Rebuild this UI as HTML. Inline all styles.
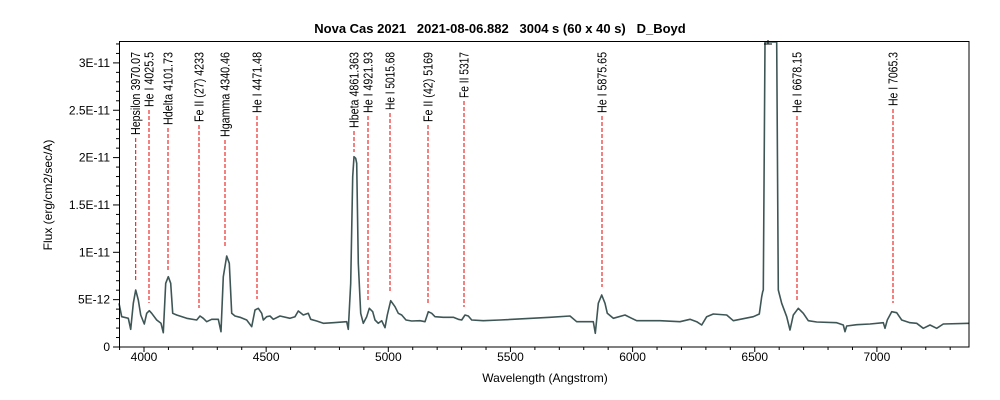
<!DOCTYPE html>
<html><head><meta charset="utf-8"><style>
body{margin:0;background:#fff;}
svg{display:block;font-family:"Liberation Sans",sans-serif;}
</style></head><body>
<svg id="s" width="1000" height="400" viewBox="0 0 1000 400" xmlns="http://www.w3.org/2000/svg">
<rect width="1000" height="400" fill="#fff"/>
<text x="500" y="33" text-anchor="middle" font-size="13" font-weight="bold" style="white-space:pre" xml:space="preserve">Nova Cas 2021   2021-08-06.882   3004 s (60 x 40 s)   D_Boyd</text>
<g id="ticks" stroke="#000" stroke-width="1"></g>
<g id="lines"></g>
<polyline id="spec" fill="none" stroke="#3f5656" stroke-width="1.6" stroke-linejoin="round"/>
<line x1="764" y1="44" x2="772" y2="44" stroke="#000"/><line x1="768" y1="40" x2="768" y2="44" stroke="#000"/>
<rect x="119.5" y="41.5" width="849.5" height="305.5" fill="none" stroke="#000"/>
<g font-size="12" id="lbl"></g>
<text x="545" y="382" text-anchor="middle" font-size="12">Wavelength (Angstrom)</text>
<text transform="translate(52,195) rotate(-90)" text-anchor="middle" font-size="12">Flux (erg/cm2/sec/A)</text>
</svg>
<script>
var NS="http://www.w3.org/2000/svg";
function el(t,a,p,txt){var e=document.createElementNS(NS,t);for(var k in a)e.setAttribute(k,a[k]);if(txt)e.textContent=txt;document.getElementById(p).appendChild(e);return e;}
function X(l){return 144+(l-4000)*0.2443;}
for(var l=3900;l<=7370;l+=100){var x=X(l);var big=l%500==0;el('line',{x1:x,y1:347,x2:x,y2:big?352:350},'ticks');
 if(big)el('text',{x:x,y:361,'text-anchor':'middle'},'lbl',String(l));}
for(var i=0;i<=32;i++){var y=347-i*9.47;var big=i%5==0;el('line',{x1:big?113:116,y1:y,x2:119,y2:y},'ticks');
 if(big){var t=i==0?'0':(i%10==0?(i/10)+'E-11':(i<10?i+'E-12':(i/10)+'E-11'));el('text',{x:110,y:y+4,'text-anchor':'end'},'lbl',t);}}
var M=[["Hepsilon 3970.07",135.7,135,282],["He I 4025.5",149,107,303],["Hdelta 4101.73",168,125,270],["Fe II (27) 4233",199,122,308],["Hgamma 4340.46",225,137,248],["He I 4471.48",257,113,299],["Hbeta 4861.363",354,128,152],["He I 4921.93",368,113,302],["He I 5015.68",390,110,292],["Fe II (42) 5169",428,122,303],["Fe II 5317",464,98,307],["He I 5875.65",602,113,287],["He I 6678.15",797,113,300],["He I 7065.3",893,106,303]];
M.forEach(function(m){el('line',{x1:m[1],y1:m[2]+3,x2:m[1],y2:m[3],stroke:'#ee0000','stroke-dasharray':'4,2'},'lines');
 var t=el('text',{transform:'translate('+(m[1]+4.5)+',52) rotate(-90)','text-anchor':'end','font-size':'12.5'},'lbl',m[0]);
 t.setAttribute('textLength',(m[2]-52));t.setAttribute('lengthAdjust','spacingAndGlyphs');});
var A=[[57,820],[65,860],[85,865],[92,898],[100,820],[107,780],[115,810],[122,855],[133,882],[140,850],[148,842],[155,850],[170,870],[183,880],[190,908],[197,760],[205,740],[212,760],[218,850],[230,855],[260,865],[290,870],[300,858],[310,865],[320,875],[335,868],[355,868],[363,905],[370,740],[380,678],[388,700],[395,850],[405,858],[420,862],[440,870],[455,890],[465,840],[475,835],[485,850],[490,870],[500,860],[510,858],[520,868],[540,858],[570,865],[585,860],[595,843],[610,855],[625,850],[632,868],[650,873],[670,880],[700,878],[740,875],[745,898],[752,760],[758,440],[762,380],[767,385],[770,400],[775,700],[782,850],[790,880],[800,860],[808,835],[818,845],[825,870],[835,880],[845,872],[855,893],[862,855],[872,812],[885,830],[895,850],[905,855],[918,870],[935,873],[960,872],[975,875],[985,845],[995,850],[1005,860],[1030,862],[1060,862],[1075,868],[1085,870],[1095,855],[1105,858],[1115,870],[1150,872],[1200,870]];
var B=[[0,862],[60,858],[80,875],[130,875],[136,910],[145,820],[155,795],[165,820],[172,850],[190,865],[225,855],[245,865],[260,872],[330,872],[390,875],[420,868],[440,875],[455,885],[470,860],[490,852],[530,855],[550,872],[580,866],[610,860],[628,852],[635,800],[638,785],[640,780],[645,0],[680,0],[685,780],[695,820],[710,860],[720,900],[730,855],[745,835],[760,850],[775,872],[800,876],[860,878],[880,885],[885,905],[890,888],[920,884],[960,882],[1000,878],[1005,895],[1012,870],[1025,845],[1040,848],[1055,870],[1080,878],[1100,880],[1120,895],[1140,885],[1160,895],[1180,882],[1258,880]];
var pts=[];A.forEach(function(p){pts.push((100+p[0]/3).toFixed(1)+','+(30+p[1]/3).toFixed(1));});
B.forEach(function(p){var y=30+p[1]/3;if(y<42)y=42;pts.push((550+p[0]/3).toFixed(1)+','+y.toFixed(1));});
document.getElementById('spec').setAttribute('points',pts.join(' '));
</script>
</body></html>
